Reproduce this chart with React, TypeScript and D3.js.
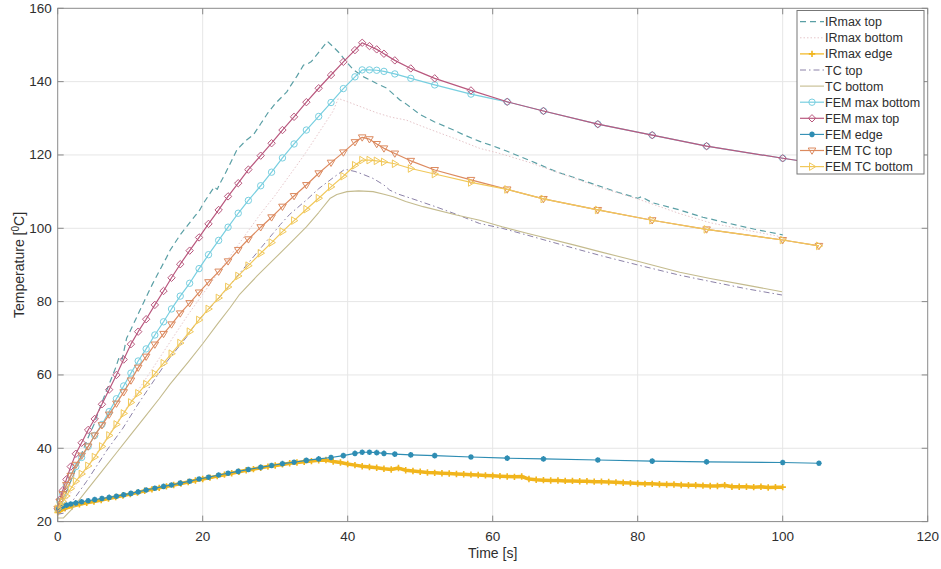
import * as d3 from 'd3';

const W = 941;
const H = 569;
const frame = { left: 57.7, right: 927.7, top: 8.3, bottom: 521.6 };

// FEM output times [s] (shared by all FEM series)
const feTime = [0, 0.3, 0.7, 1.2, 1.8, 2.5, 3.3, 4.2, 5.1, 6.1, 7.1, 8.1, 9.1, 10.1, 11.1, 12.2, 13.4, 14.6, 15.7, 16.9, 18.2, 19.5, 20.8, 22.2, 23.5, 24.9, 26.3, 28, 29.5, 31, 32.6, 34.3, 36, 37.7, 39.4, 41, 42, 43, 44, 45, 46.5, 48.7, 52, 57, 62, 67, 74.5, 82, 89.5, 100, 105];

const femMaxBottom = [23.5, 25.5, 27.5, 30, 32.5, 35, 37.5, 40.5, 43.5, 46.5, 50, 53.5, 57, 60.5, 63.8, 67.1, 70.9, 74.5, 78, 81.5, 85, 89, 92.8, 96.7, 100.3, 104.1, 107.6, 111.6, 115.3, 119.2, 123, 126.8, 130.5, 134.3, 138.1, 141.3, 143.2, 143.2, 143.1, 142.8, 142.1, 140.9, 139.1, 136.6, 134.5, 132, 128.4, 125.4, 122.4, 119.1, 117.6];
const femMaxTop = [23.5, 26, 28.5, 31.5, 35, 38.5, 41.5, 45, 48, 52, 56, 60, 64.2, 68.4, 71.8, 75.2, 79.1, 82.9, 86.5, 90.2, 93.9, 97.5, 101.2, 105, 108.7, 112.3, 116, 119.8, 123.2, 126.8, 130.4, 134.4, 138.2, 141.8, 145.4, 148.6, 150.6, 149.7, 148.8, 147.6, 145.8, 143.6, 140.9, 137.6, 134.5, 132, 128.4, 125.4, 122.4, 119.1, 117.6];
const femEdge = [23.3, 23.8, 24.2, 24.5, 24.8, 25.1, 25.4, 25.7, 26, 26.3, 26.6, 26.9, 27.3, 27.7, 28.1, 28.6, 29.1, 29.6, 30, 30.5, 31, 31.6, 32.1, 32.7, 33.2, 33.7, 34.2, 34.8, 35.3, 35.8, 36.2, 36.7, 37.1, 37.5, 38, 38.6, 38.9, 38.9, 38.8, 38.6, 38.4, 38.2, 38, 37.6, 37.3, 37.1, 36.8, 36.5, 36.3, 36.1, 35.9];
const femTcTop = [23.5, 25.5, 27.5, 30, 32.5, 35.5, 38, 40.5, 43.5, 46.3, 49.2, 52.2, 55.3, 58.5, 62, 65, 68.3, 71.2, 73.8, 76.8, 79.6, 82.5, 85.3, 88.2, 91, 94.1, 97, 100.3, 103, 105.9, 108.8, 111.8, 115, 117.9, 120.7, 123.5, 124.8, 124.3, 123, 121.8, 120.4, 118.4, 115.9, 113.2, 110.6, 108, 105, 102.2, 99.7, 96.8, 95.2];
const femTcBottom = [23.5, 24.5, 25.5, 27, 29, 31, 33, 35.2, 37.6, 40.5, 43.5, 46.5, 49.5, 52.5, 55, 57.5, 60.3, 63.2, 65.8, 68.7, 71.8, 75, 78, 81, 84, 87, 89.8, 93.2, 96.1, 99.1, 102.1, 105.2, 108.2, 111.3, 114.2, 117.2, 118.6, 118.6, 118.4, 118.1, 117.6, 116.3, 114.8, 112.5, 110.6, 108, 105, 102.2, 99.7, 96.8, 95.2];

// IR camera, max over top surface [time, temp]
const irmaxTop: [number, number][] = [[0, 22.5], [1, 27], [2, 32], [3, 37], [4, 42], [5, 46.5], [6, 52], [7, 57], [8, 62], [8.5, 65], [8.9, 64.3], [9.5, 70], [10, 72], [11, 76.2], [12, 80.4], [13, 84.5], [14, 88.3], [15, 92], [15.5, 94], [16, 95.5], [17, 98.5], [18, 101], [19, 103.5], [19.6, 105], [20, 106.5], [21, 109.5], [21.6, 111.3], [22, 110.6], [22.4, 112.3], [23, 114.5], [24, 118.5], [24.7, 121.3], [25, 122], [26, 124], [27, 125.5], [28, 128.5], [29, 131.5], [30, 134], [31, 136], [31.6, 137.2], [32, 138.5], [33, 141.5], [33.9, 144.5], [34.6, 145], [35, 145.5], [36, 148], [37.2, 151], [38, 149.5], [38.9, 147.7], [40, 145], [40.8, 143.2], [42.2, 141.3], [44, 139.5], [45.4, 138.2], [47.2, 135], [48, 134], [50, 131], [52, 129], [54.6, 126.8], [56, 125.5], [58.2, 123.7], [60, 122.5], [62, 121], [65, 118.6], [68.8, 115.4], [71, 114], [74.3, 111.8], [77, 110], [80, 108.2], [80.5, 108.6], [82, 107], [85.8, 105], [89, 103], [92.7, 101.3], [96, 99.8], [100, 98.2]];

const irmaxBottom: [number, number][] = [[0, 22], [2, 28.5], [4, 34.5], [6, 40.5], [8, 46.5], [10, 52.5], [12, 58.5], [14, 64.5], [16, 70.5], [18, 76.5], [20, 82], [22, 87.5], [24, 93], [26, 98.5], [28, 104], [30, 109], [32, 114.5], [34, 120], [36, 126], [38, 132], [38.7, 135.4], [40, 134.5], [42, 133], [44, 131.5], [46, 130.3], [48.1, 129.5], [50, 128], [52, 126.5], [55, 124.3], [58.2, 121.8], [61, 120.4], [65, 118], [70, 114.5], [75, 111], [80, 108], [85.8, 104], [90, 101.5], [95, 99.5], [100, 97.6]];

// IR edge temperature, one sample per second from 0 s to 100 s
const irmaxEdge = [22.5, 23.6, 24.2, 24.7, 25.1, 25.5, 25.9, 26.3, 26.7, 27.1, 27.5, 27.9, 28.4, 28.8, 29.2, 29.6, 30, 30.4, 30.8, 31.2, 31.6, 32, 32.4, 32.8, 33.2, 33.6, 34, 34.3, 34.7, 35, 35.3, 35.6, 35.9, 36.1, 36.3, 36.5, 36.7, 36.8, 36.4, 36.1, 35.7, 35.4, 35.1, 34.9, 34.7, 34.4, 34.2, 34.6, 34, 33.8, 33.6, 33.4, 33.3, 33.2, 33.1, 33, 32.9, 32.8, 32.7, 32.6, 32.5, 32.4, 32.3, 32.2, 32.3, 31.6, 31.4, 31.3, 31.2, 31.2, 31.1, 31.1, 31, 31, 30.9, 30.9, 30.8, 30.7, 30.6, 30.5, 30.4, 30.3, 30.3, 30.2, 30.1, 30.1, 30, 29.9, 29.9, 29.8, 29.7, 29.7, 29.9, 29.5, 29.5, 29.5, 29.4, 29.5, 29.3, 29.4, 29.4];

// thermocouples [time, temp]
const tcTop: [number, number][] = [[0, 22], [0.8, 22.3], [2, 25.5], [4, 31], [6.8, 39.5], [9, 45.5], [11, 51.8], [12.7, 56.8], [15, 63.5], [17.8, 70.4], [19.2, 74.5], [22.4, 81.3], [23.8, 84.6], [25, 87.5], [27, 92.2], [29.7, 98.6], [30.7, 101], [32, 103.8], [34.3, 107.7], [36, 110.8], [38, 113.8], [39.6, 116.1], [41, 115.5], [42, 114.8], [43.5, 113.6], [45, 111.8], [45.8, 110.4], [47, 109.3], [49, 108], [52.1, 105.9], [55, 103.8], [58.2, 101.3], [61.3, 100], [65, 98], [71.3, 94.5], [75, 92.5], [80, 90], [85.8, 87.2], [90, 85.5], [95, 83.5], [99.9, 81.8]];
const tcBottom: [number, number][] = [[0, 21], [0.8, 21], [2, 23.5], [4, 28.5], [6, 33.5], [8, 38.5], [10, 43.5], [12, 48.5], [14, 53.5], [15.5, 57.5], [18, 63.5], [20, 68.5], [22, 73.8], [23.8, 78.4], [25.1, 82], [27.5, 87], [29.7, 91.3], [32, 95.8], [34.3, 100.4], [36, 104.3], [37.6, 108.2], [38.5, 109.2], [39.9, 110], [41.5, 110.2], [43.5, 110], [45, 109.3], [46.3, 108.6], [48, 107.3], [50.4, 105.9], [55, 103.6], [58.2, 102.2], [61.3, 100.4], [65, 98.5], [71.3, 95.4], [75, 93.5], [80, 91], [85.8, 88], [90, 86.3], [95, 84.5], [99.9, 82.7]];

const xTicks = [0, 20, 40, 60, 80, 100, 120];
const yTicks = [20, 40, 60, 80, 100, 120, 140, 160];

type MarkerKind = 'none' | 'plus' | 'circle' | 'diamond' | 'asterisk' | 'triDown' | 'triRight';

function markerPath(kind: MarkerKind, s: number) {
  switch (kind) {
    case 'plus':
      return `M${-s},0H${s}M0,${-s}V${s}`;
    case 'diamond':
      return `M0,${-s}L${s},0L0,${s}L${-s},0Z`;
    case 'asterisk': {
      const d = s * 0.7;
      return `M${-s},0H${s}M0,${-s}V${s}M${-d},${-d}L${d},${d}M${-d},${d}L${d},${-d}`;
    }
    case 'triDown':
      return `M${-s},${-s * 0.65}L${s},${-s * 0.65}L0,${s}Z`;
    case 'triRight':
      return `M${-s * 0.65},${-s}L${s},0L${-s * 0.65},${s}Z`;
    default:
      return '';
  }
}

function Marker({ kind, cx, cy, color, size }: { kind: MarkerKind; cx: number; cy: number; color: string; size: number }) {
  if (kind === 'none') return null;
  if (kind === 'circle') {
    return <circle cx={cx} cy={cy} r={size} fill="none" stroke={color} strokeWidth={1} />;
  }
  const stroked = kind === 'asterisk' || kind === 'plus';
  return (
    <path
      d={markerPath(kind, size)}
      transform={`translate(${cx},${cy})`}
      fill="none"
      stroke={color}
      strokeWidth={stroked ? 1.6 : 1}
    />
  );
}

const zip = (t: number[], v: number[]): [number, number][] => v.map((d, i) => [t[i], d]);

export default function App() {
  const x = d3.scaleLinear().domain([0, 120]).range([frame.left, frame.right]);
  const y = d3.scaleLinear().domain([20, 160]).range([frame.bottom, frame.top]);
  const line = d3
    .line<[number, number]>()
    .x((d) => x(d[0]))
    .y((d) => y(d[1]));

  const series = [
    { name: 'IRmax top', pts: irmaxTop, color: '#5a9fa5', dash: '6,4', width: 1.2, marker: 'none' as MarkerKind, size: 0 },
    { name: 'IRmax bottom', pts: irmaxBottom, color: '#e6c6ca', dash: '1.5,2', width: 1, marker: 'none' as MarkerKind, size: 0 },
    { name: 'IRmax edge', pts: irmaxEdge.map((v, i) => [i, v] as [number, number]), color: '#f1b51c', dash: '', width: 3.5, marker: 'plus' as MarkerKind, size: 3.2 },
    { name: 'TC top', pts: tcTop, color: '#8c82a8', dash: '6,3,1.5,3', width: 1, marker: 'none' as MarkerKind, size: 0 },
    { name: 'TC bottom', pts: tcBottom, color: '#c4bb8e', dash: '', width: 1.1, marker: 'none' as MarkerKind, size: 0 },
    { name: 'FEM max bottom', pts: zip(feTime, femMaxBottom), color: '#78cfe0', dash: '', width: 1.2, marker: 'circle' as MarkerKind, size: 3.2 },
    { name: 'FEM max top', pts: zip(feTime, femMaxTop), color: '#b9587e', dash: '', width: 1.2, marker: 'diamond' as MarkerKind, size: 3.7 },
    { name: 'FEM edge', pts: zip(feTime, femEdge), color: '#2e8db3', dash: '', width: 1.1, marker: 'asterisk' as MarkerKind, size: 2.8 },
    { name: 'FEM TC top', pts: zip(feTime, femTcTop), color: '#dc8a5f', dash: '', width: 1.2, marker: 'triDown' as MarkerKind, size: 3.8 },
    { name: 'FEM TC bottom', pts: zip(feTime, femTcBottom), color: '#f1c85a', dash: '', width: 1.2, marker: 'triRight' as MarkerKind, size: 3.8 },
  ];

  const font = "'Liberation Sans', Arial, Helvetica, sans-serif";
  const axisColor = '#8a8a8a';
  const textColor = '#2e2e2e';
  const tickLen = 6;

  const legend = { x0: 797, x1: 924, y0: 10.5, y1: 174, row0: 21.7, rowStep: 16.1 };

  return (
    <svg
      width={W}
      height={H}
      style={{ position: 'absolute', left: 0, top: 0, background: '#fff' }}
      fontFamily={font}
    >
      <rect x={0} y={0} width={W} height={H} fill="#fff" />
      {/* grid */}
      <g stroke="#e6e6e6" strokeWidth={1}>
        {xTicks.slice(1, -1).map((t) => (
          <line key={`gx${t}`} x1={x(t)} x2={x(t)} y1={frame.top} y2={frame.bottom} />
        ))}
        {yTicks.slice(1, -1).map((t) => (
          <line key={`gy${t}`} x1={frame.left} x2={frame.right} y1={y(t)} y2={y(t)} />
        ))}
      </g>

      {/* series */}
      {series.map((s) => (
        <g key={s.name}>
          <path
            d={line(s.pts) ?? ''}
            fill="none"
            stroke={s.color}
            strokeWidth={s.width}
            strokeDasharray={s.dash || undefined}
            strokeLinejoin="round"
          />
          {s.marker !== 'none' &&
            s.pts.map((p, i) => (
              <Marker key={i} kind={s.marker} cx={x(p[0])} cy={y(p[1])} color={s.color} size={s.size} />
            ))}
        </g>
      ))}

      {/* box + ticks */}
      <rect
        x={frame.left}
        y={frame.top}
        width={frame.right - frame.left}
        height={frame.bottom - frame.top}
        fill="none"
        stroke={axisColor}
        strokeWidth={1}
      />
      <g stroke={axisColor} strokeWidth={1}>
        {xTicks.map((t) => (
          <g key={`tx${t}`}>
            <line x1={x(t)} x2={x(t)} y1={frame.bottom} y2={frame.bottom - tickLen} />
            <line x1={x(t)} x2={x(t)} y1={frame.top} y2={frame.top + tickLen} />
          </g>
        ))}
        {yTicks.map((t) => (
          <g key={`ty${t}`}>
            <line x1={frame.left} x2={frame.left + tickLen} y1={y(t)} y2={y(t)} />
            <line x1={frame.right} x2={frame.right - tickLen} y1={y(t)} y2={y(t)} />
          </g>
        ))}
      </g>
      <g fill={textColor} fontSize={13.5}>
        {xTicks.map((t) => (
          <text key={`lx${t}`} x={x(t)} y={frame.bottom + 19} textAnchor="middle">
            {t}
          </text>
        ))}
        {yTicks.map((t) => (
          <text key={`ly${t}`} x={frame.left - 6} y={y(t) + 4.5} textAnchor="end">
            {t}
          </text>
        ))}
      </g>
      <text x={(frame.left + frame.right) / 2} y={558} textAnchor="middle" fontSize={14} fill={textColor}>
        Time [s]
      </text>
      <text
        transform={`translate(24,${(frame.top + frame.bottom) / 2}) rotate(-90)`}
        textAnchor="middle"
        fontSize={14}
        fill={textColor}
      >
        Temperature [
        <tspan dy={-5} fontSize={10}>
          0
        </tspan>
        <tspan dy={5}>C]</tspan>
      </text>

      {/* legend */}
      <rect
        x={legend.x0}
        y={legend.y0}
        width={legend.x1 - legend.x0}
        height={legend.y1 - legend.y0}
        fill="#fff"
        stroke="#777"
        strokeWidth={1}
      />
      {series.map((s, i) => {
        const cy = legend.row0 + i * legend.rowStep;
        return (
          <g key={`lg${s.name}`}>
            <line
              x1={legend.x0 + 3}
              x2={legend.x0 + 27}
              y1={cy}
              y2={cy}
              stroke={s.color}
              strokeWidth={s.name === 'IRmax edge' ? 1.2 : s.width}
              strokeDasharray={s.dash || undefined}
            />
            <Marker kind={s.marker} cx={legend.x0 + 15} cy={cy} color={s.color} size={s.size} />
            <text x={legend.x0 + 28} y={cy + 4.5} fontSize={12.5} fill={textColor}>
              {s.name}
            </text>
          </g>
        );
      })}
    </svg>
  );
}
